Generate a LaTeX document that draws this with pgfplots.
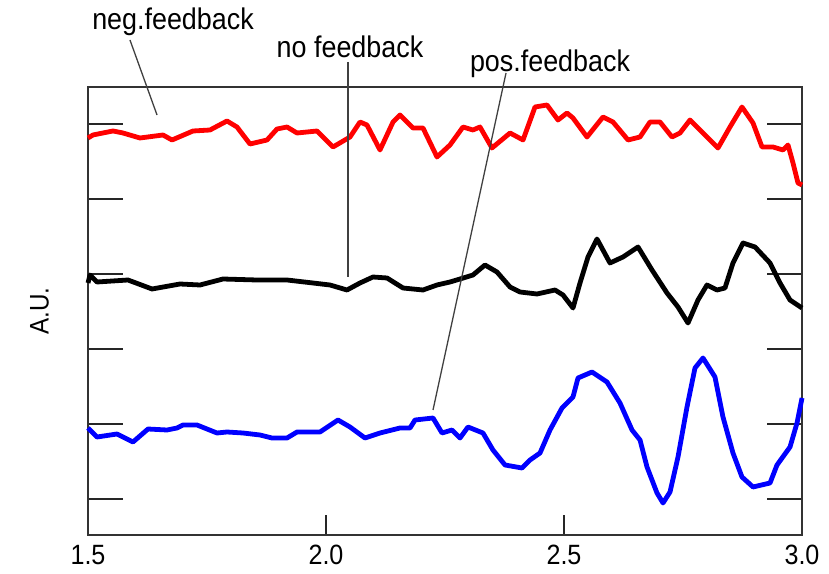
\documentclass[border=0pt]{standalone}
\usepackage{fontspec}
\setmainfont{Liberation Sans}[FakeStretch=0.9]
\usepackage{pgfplots}
\pgfplotsset{compat=1.18}
\begin{document}
\begin{tikzpicture}
\useasboundingbox (-88bp,-39bp) rectangle (741bp,535bp);
\begin{axis}[
  at={(0,0)}, anchor=south west,
  scale only axis, width=714bp, height=448bp,
  xmin=1.5, xmax=3.0, ymin=0, ymax=448,
  xtick={1.5,2.0,2.5,3.0},
  xticklabels={1.5,2.0,2.5,3.0},
  xtick pos=bottom,
  ytick={36,111,186,261,336,411},
  yticklabels={},
  ytick pos=both,
  axis line style={black!80, line width=2bp},
  xtick style={black!85, line width=1.6bp, /pgfplots/major tick length=20bp},
  ytick style={black!85, line width=1.6bp, /pgfplots/major tick length=35bp},
  xticklabel style={font=\fontsize{28}{32}\selectfont, yshift=-7bp},
  ylabel={A.U.},
  ylabel style={font=\fontsize{27}{31}\selectfont, at={(axis description cs:-0.068,0.5)}, anchor=center},
  clip=false,
  /pgf/number format/assume math mode=true,
]
\addplot[red, line width=4.8bp, line join=round] coordinates {
(1.5000,397) (1.5105,400) (1.5525,404) (1.5735,402) (1.6092,397) (1.6576,400)
(1.6765,395) (1.7206,404) (1.7563,405) (1.7920,414) (1.8130,408) (1.8403,391)
(1.8761,395) (1.8971,406) (1.9181,408) (1.9391,402) (1.9811,404) (2.0147,388)
(2.0504,398) (2.0714,413) (2.0861,410) (2.1134,385) (2.1408,413) (2.1555,420)
(2.1828,407) (2.2038,407) (2.2332,378) (2.2605,390) (2.2878,408) (2.3088,405)
(2.3235,408) (2.3487,387) (2.3866,402) (2.4139,395) (2.4391,428) (2.4643,430)
(2.4874,415) (2.5063,422) (2.5189,417) (2.5483,398) (2.5819,418) (2.6029,413)
(2.6345,395) (2.6597,398) (2.6807,413) (2.7017,413) (2.7269,398) (2.7437,402)
(2.7647,415) (2.7920,402) (2.8235,387) (2.8487,408) (2.8739,428) (2.8971,412)
(2.9160,388) (2.9391,388) (2.9601,385) (2.9706,390) (2.9811,372) (2.9916,352)
(3.0000,350)
};
\addplot[black, line width=4.8bp, line join=round] coordinates {
(1.5000,252) (1.5042,260) (1.5189,253) (1.5840,255) (1.6345,246) (1.6933,251)
(1.7353,250) (1.7836,256) (1.8550,255) (1.9181,255) (1.9727,252) (2.0084,250)
(2.0441,245) (2.0714,252) (2.0987,258) (2.1282,257) (2.1618,247) (2.2038,245)
(2.2332,250) (2.2605,253) (2.2815,256) (2.3088,260) (2.3340,270) (2.3592,263)
(2.3866,248) (2.4076,243) (2.4433,241) (2.4811,245) (2.4979,240) (2.5189,227)
(2.5336,252) (2.5504,278) (2.5693,296) (2.5966,272) (2.6239,278) (2.6555,288)
(2.6849,265) (2.7164,242) (2.7395,228) (2.7605,212) (2.7815,235) (2.8004,250)
(2.8214,245) (2.8382,247) (2.8550,272) (2.8761,292) (2.9013,288) (2.9328,272)
(2.9538,252) (2.9748,235) (3.0000,227)
};
\addplot[blue, line width=4.8bp, line join=round] coordinates {
(1.5000,107) (1.5189,98) (1.5609,101) (1.5945,93) (1.6261,106) (1.6660,105)
(1.6870,107) (1.6996,110) (1.7290,110) (1.7710,102) (1.7920,103) (1.8256,102)
(1.8613,100) (1.8866,97) (1.9181,97) (1.9391,103) (1.9874,103) (2.0252,115)
(2.0504,108) (2.0819,97) (2.1134,102) (2.1555,107) (2.1765,107) (2.1870,115)
(2.2248,117) (2.2437,102) (2.2647,105) (2.2815,97) (2.2983,108) (2.3298,102)
(2.3508,85) (2.3761,70) (2.4118,67) (2.4286,75) (2.4496,82) (2.4706,105)
(2.4958,127) (2.5189,138) (2.5294,157) (2.5588,163) (2.5903,153) (2.6176,132)
(2.6429,105) (2.6597,95) (2.6744,68) (2.6954,42) (2.7080,32) (2.7227,43)
(2.7395,78) (2.7584,128) (2.7752,167) (2.7920,177) (2.8172,158) (2.8340,118)
(2.8550,82) (2.8739,58) (2.8971,48) (2.9328,52) (2.9475,70) (2.9748,88)
(2.9895,112) (3.0000,137)
};
\draw[black!75, line width=1.3bp] (axis cs:1.5882,495) -- (axis cs:1.6450,420);
\draw[black!75, line width=1.3bp] (axis cs:2.0462,473) -- (axis cs:2.0462,258);
\draw[black!75, line width=1.3bp] (axis cs:2.3782,462) -- (axis cs:2.2248,125);
\node[anchor=base, inner sep=0pt, font=\fontsize{30}{34}\selectfont] at (axis cs:1.6786,505) {neg.feedback};
\node[anchor=base, inner sep=0pt, font=\fontsize{30}{34}\selectfont] at (axis cs:2.0504,477) {no feedback};
\node[anchor=base, inner sep=0pt, font=\fontsize{30}{34}\selectfont] at (axis cs:2.4706,463) {pos.feedback};
\end{axis}
\end{tikzpicture}
\end{document}
